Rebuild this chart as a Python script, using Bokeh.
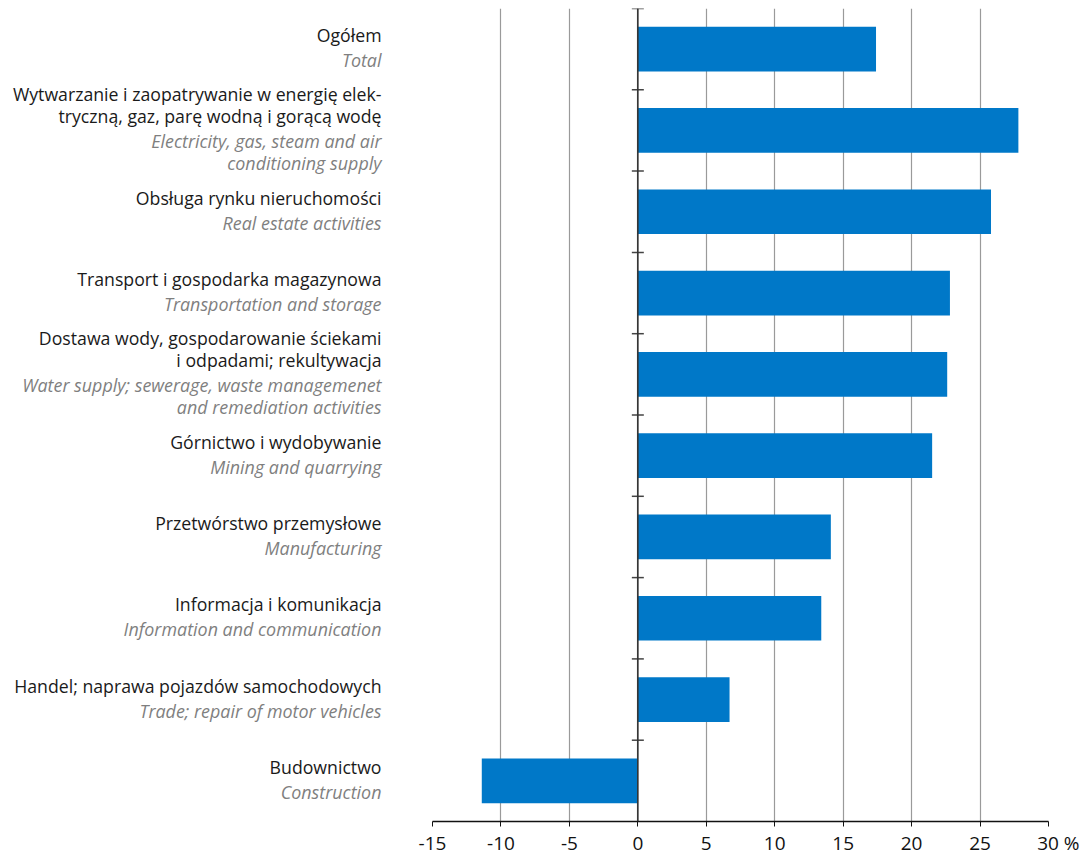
from bokeh.plotting import figure
from bokeh.layouts import row
from bokeh.models import Range1d, Span, FixedTicker, ColumnDataSource
from bokeh.core.properties import value
from bokeh.embed import file_html
from bokeh.resources import INLINE

labels_pl = [
    "Ogółem",
    "Wytwarzanie i zaopatrywanie w energię elek-\ntryczną, gaz, parę wodną i gorącą wodę",
    "Obsługa rynku nieruchomości",
    "Transport i gospodarka magazynowa",
    "Dostawa wody, gospodarowanie ściekami\ni odpadami; rekultywacja",
    "Górnictwo i wydobywanie",
    "Przetwórstwo przemysłowe",
    "Informacja i komunikacja",
    "Handel; naprawa pojazdów samochodowych",
    "Budownictwo",
]
labels_en = [
    "Total",
    "Electricity, gas, steam and air\nconditioning supply",
    "Real estate activities",
    "Transportation and storage",
    "Water supply; sewerage, waste managemenet\nand remediation activities",
    "Mining and quarrying",
    "Manufacturing",
    "Information and communication",
    "Trade; repair of motor vehicles",
    "Construction",
]
values = [17.4, 27.8, 25.8, 22.8, 22.6, 21.5, 14.1, 13.4, 6.7, -11.4]
x_ticks = [-15, -10, -5, 0, 5, 10, 15, 20, 25, 30]
unit = "%"

FONT = "Open Sans"
BLUE = "#0078C8"
n = len(values)
TOP, BOTTOM = 8, 34
FRAME_H = 813
LEFT_W = 412
px_per_cat = FRAME_H / n

y_range = Range1d(n, 0)

# ---------------- main bar chart ----------------
p = figure(frame_width=616, frame_height=FRAME_H, output_backend="svg", toolbar_location=None,
           x_range=Range1d(x_ticks[0], x_ticks[-1]), y_range=y_range,
           min_border_left=20, min_border_right=40, min_border_top=TOP,
           min_border_bottom=BOTTOM)
p.outline_line_color = None

centers = [i + 0.5 for i in range(n)]
p.hbar(y=centers, left=0, right=values, height=0.55, fill_color=BLUE, line_color=None)

p.xgrid.ticker = FixedTicker(ticks=x_ticks)
p.xgrid.grid_line_color = "#9a9a9a"
p.xgrid.grid_line_width = 1.2
p.ygrid.visible = False

xa = p.xaxis[0]
xa.ticker = FixedTicker(ticks=x_ticks)
overrides = {t: str(t) for t in x_ticks if t < 0}
overrides[x_ticks[-1]] = "\u00a0\u00a0\u00a0\u00a0" + str(x_ticks[-1]) + "\u00a0" + unit
xa.major_label_overrides = overrides
xa.axis_line_color = "#111111"
xa.axis_line_width = 1.3
xa.major_tick_line_color = "#111111"
xa.major_tick_out = 5
xa.major_tick_in = 0
xa.minor_tick_line_color = None
xa.major_label_text_font = FONT
xa.major_label_text_font_size = "19px"
xa.major_label_text_color = "#111111"
xa.major_label_standoff = 3
p.yaxis.visible = False

p.add_layout(Span(location=0, dimension="height", line_color="#333333", line_width=1.6))
p.scatter(x=[0] * n, y=list(range(n)), marker="dash", size=12,
          line_color="#444444", line_width=1.5)

# ---------------- label panel ----------------
lab = figure(frame_width=LEFT_W, frame_height=FRAME_H, output_backend="svg", toolbar_location=None,
             x_range=Range1d(0, LEFT_W), y_range=y_range,
             x_axis_type=None, y_axis_type=None,
             min_border_left=0, min_border_right=0, min_border_top=TOP,
             min_border_bottom=BOTTOM)
lab.outline_line_color = None
lab.grid.visible = False

LS = 22
TEXT_RIGHT = 381
pl = dict(x=[], y=[], text=[])
en = dict(x=[], y=[], text=[])
for i in range(n):
    pls = labels_pl[i].split("\n")
    ens = labels_en[i].split("\n")
    for k, t in enumerate(pls):
        down = -14 - (len(pls) - 1 - k) * LS
        pl["x"].append(TEXT_RIGHT); pl["y"].append(centers[i] + down / px_per_cat); pl["text"].append(t)
    for k, t in enumerate(ens):
        down = 11 + k * LS
        en["x"].append(TEXT_RIGHT); en["y"].append(centers[i] + down / px_per_cat); en["text"].append(t)

lab.text(x="x", y="y", text="text", source=ColumnDataSource(pl),
         text_align="right", text_baseline="middle", text_font=value(FONT),
         text_font_size="17.7px", text_color="#1a1a1a")
lab.text(x="x", y="y", text="text", source=ColumnDataSource(en),
         text_align="right", text_baseline="middle", text_font=value(FONT),
         text_font_size="17.9px", text_color="#7f7f7f", text_font_style="italic")

layout = row(lab, p)
open("out.html", "w").write(file_html(layout, INLINE))
